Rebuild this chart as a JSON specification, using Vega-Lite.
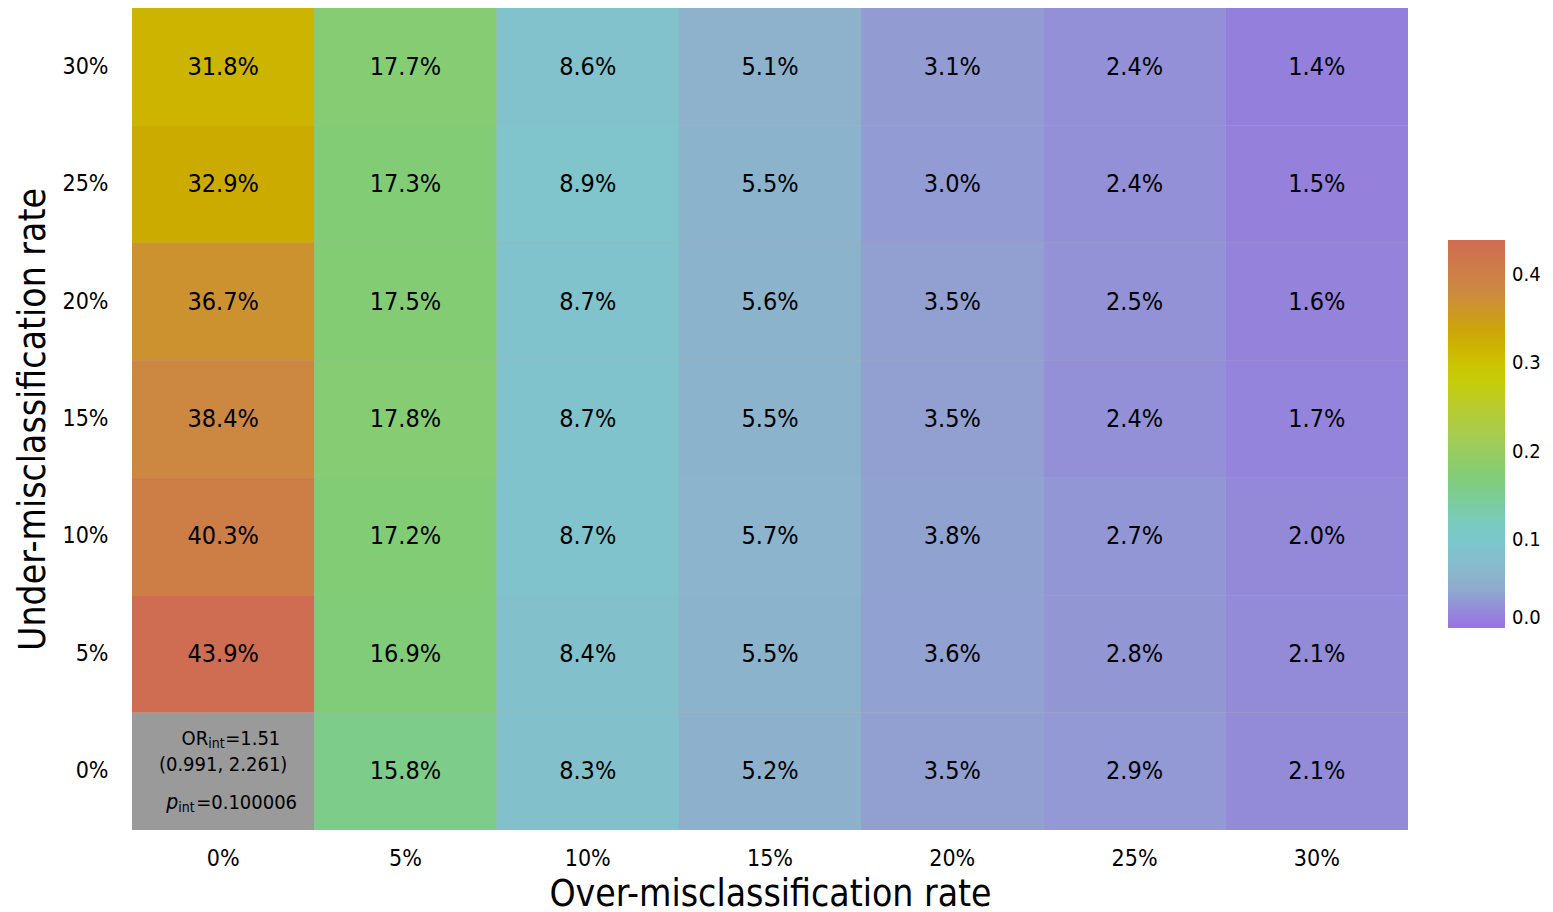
{
  "$schema": "https://vega.github.io/schema/vega-lite/v6.json",
  "width": 1276,
  "height": 822,
  "padding": {"left": 14, "top": 8, "right": 5, "bottom": 3},
  "background": "white",
  "config": {
    "font": "DejaVu Sans Condensed",
    "view": {"stroke": null},
    "axis": {"ticks": false, "domain": false, "grid": false, "labelColor": "black", "titleColor": "black", "titleFontWeight": "normal"}
  },
  "data": {
    "values": [
      {"under": "30%", "over": "0%", "v": 0.318}, {"under": "30%", "over": "5%", "v": 0.177}, {"under": "30%", "over": "10%", "v": 0.086}, {"under": "30%", "over": "15%", "v": 0.051}, {"under": "30%", "over": "20%", "v": 0.031}, {"under": "30%", "over": "25%", "v": 0.024}, {"under": "30%", "over": "30%", "v": 0.014},
      {"under": "25%", "over": "0%", "v": 0.329}, {"under": "25%", "over": "5%", "v": 0.173}, {"under": "25%", "over": "10%", "v": 0.089}, {"under": "25%", "over": "15%", "v": 0.055}, {"under": "25%", "over": "20%", "v": 0.030}, {"under": "25%", "over": "25%", "v": 0.024}, {"under": "25%", "over": "30%", "v": 0.015},
      {"under": "20%", "over": "0%", "v": 0.367}, {"under": "20%", "over": "5%", "v": 0.175}, {"under": "20%", "over": "10%", "v": 0.087}, {"under": "20%", "over": "15%", "v": 0.056}, {"under": "20%", "over": "20%", "v": 0.035}, {"under": "20%", "over": "25%", "v": 0.025}, {"under": "20%", "over": "30%", "v": 0.016},
      {"under": "15%", "over": "0%", "v": 0.384}, {"under": "15%", "over": "5%", "v": 0.178}, {"under": "15%", "over": "10%", "v": 0.087}, {"under": "15%", "over": "15%", "v": 0.055}, {"under": "15%", "over": "20%", "v": 0.035}, {"under": "15%", "over": "25%", "v": 0.024}, {"under": "15%", "over": "30%", "v": 0.017},
      {"under": "10%", "over": "0%", "v": 0.403}, {"under": "10%", "over": "5%", "v": 0.172}, {"under": "10%", "over": "10%", "v": 0.087}, {"under": "10%", "over": "15%", "v": 0.057}, {"under": "10%", "over": "20%", "v": 0.038}, {"under": "10%", "over": "25%", "v": 0.027}, {"under": "10%", "over": "30%", "v": 0.020},
      {"under": "5%", "over": "0%", "v": 0.439}, {"under": "5%", "over": "5%", "v": 0.169}, {"under": "5%", "over": "10%", "v": 0.084}, {"under": "5%", "over": "15%", "v": 0.055}, {"under": "5%", "over": "20%", "v": 0.036}, {"under": "5%", "over": "25%", "v": 0.028}, {"under": "5%", "over": "30%", "v": 0.021},
      {"under": "0%", "over": "0%", "v": null}, {"under": "0%", "over": "5%", "v": 0.158}, {"under": "0%", "over": "10%", "v": 0.083}, {"under": "0%", "over": "15%", "v": 0.052}, {"under": "0%", "over": "20%", "v": 0.035}, {"under": "0%", "over": "25%", "v": 0.029}, {"under": "0%", "over": "30%", "v": 0.021}
    ]
  },
  "encoding": {
    "x": {"field": "over", "type": "ordinal", "sort": ["0%", "5%", "10%", "15%", "20%", "25%", "30%"], "scale": {"paddingInner": 0, "paddingOuter": 0},
      "axis": {"title": "Over-misclassification rate", "labelAngle": 0, "labelFontSize": 23, "labelPadding": 17, "titleFontSize": 37, "titlePadding": 6}},
    "y": {"field": "under", "type": "ordinal", "sort": ["30%", "25%", "20%", "15%", "10%", "5%", "0%"], "scale": {"paddingInner": 0, "paddingOuter": 0},
      "axis": {"title": "Under-misclassification rate", "labelFontSize": 23, "labelPadding": 24, "titleFontSize": 37, "titlePadding": 10}}
  },
  "layer": [
    {"mark": {"type": "rect", "fill": "#9a9a9a"}},
    {"transform": [{"filter": "datum.v != null"}],
     "mark": {"type": "rect"},
     "encoding": {"color": {"field": "v", "type": "quantitative",
       "scale": {"type": "linear", "interpolate": "rgb",
         "domain": [0, 0.015, 0.03, 0.05, 0.09, 0.11, 0.17, 0.22, 0.29, 0.33, 0.38, 0.44],
         "range": ["#9873e0", "#9580dc", "#929bd3", "#8eb0cc", "#80c4cc", "#78cccc", "#80cc78", "#a8cc50", "#cccc00", "#ccaa00", "#cc8a40", "#cf6c52"]},
       "legend": {"title": null, "gradientLength": 388, "gradientThickness": 57, "labelFontSize": 20, "labelColor": "black", "values": [0, 0.1, 0.2, 0.3, 0.4], "format": ".1f", "orient": "none", "legendX": 1316, "legendY": 232, "labelOffset": 7}}}},
    {"transform": [{"filter": "datum.v != null"}],
     "mark": {"type": "text", "fontSize": 25, "color": "black"},
     "encoding": {"text": {"field": "v", "type": "quantitative", "format": ".1%"}}},
    {"transform": [{"filter": "datum.v == null"}, {"calculate": "'OR'", "as": "t"}],
     "mark": {"type": "text", "fontSize": 20, "align": "right", "dx": -15, "dy": -32, "color": "black"},
     "encoding": {"text": {"field": "t"}}},
    {"transform": [{"filter": "datum.v == null"}, {"calculate": "'int'", "as": "t"}],
     "mark": {"type": "text", "fontSize": 14, "align": "left", "dx": -15, "dy": -27, "color": "black"},
     "encoding": {"text": {"field": "t"}}},
    {"transform": [{"filter": "datum.v == null"}, {"calculate": "'=1.51'", "as": "t"}],
     "mark": {"type": "text", "fontSize": 20, "align": "left", "dx": 2, "dy": -32, "color": "black"},
     "encoding": {"text": {"field": "t"}}},
    {"transform": [{"filter": "datum.v == null"}, {"calculate": "'(0.991, 2.261)'", "as": "t"}],
     "mark": {"type": "text", "fontSize": 20, "dy": -6, "color": "black"},
     "encoding": {"text": {"field": "t"}}},
    {"transform": [{"filter": "datum.v == null"}, {"calculate": "'p'", "as": "t"}],
     "mark": {"type": "text", "fontSize": 21, "fontStyle": "italic", "align": "right", "dx": -45, "dy": 32, "color": "black"},
     "encoding": {"text": {"field": "t"}}},
    {"transform": [{"filter": "datum.v == null"}, {"calculate": "'int'", "as": "t"}],
     "mark": {"type": "text", "fontSize": 14, "align": "left", "dx": -45, "dy": 37, "color": "black"},
     "encoding": {"text": {"field": "t"}}},
    {"transform": [{"filter": "datum.v == null"}, {"calculate": "'=0.100006'", "as": "t"}],
     "mark": {"type": "text", "fontSize": 20, "align": "left", "dx": -27, "dy": 32, "color": "black"},
     "encoding": {"text": {"field": "t"}}}
  ]
}
